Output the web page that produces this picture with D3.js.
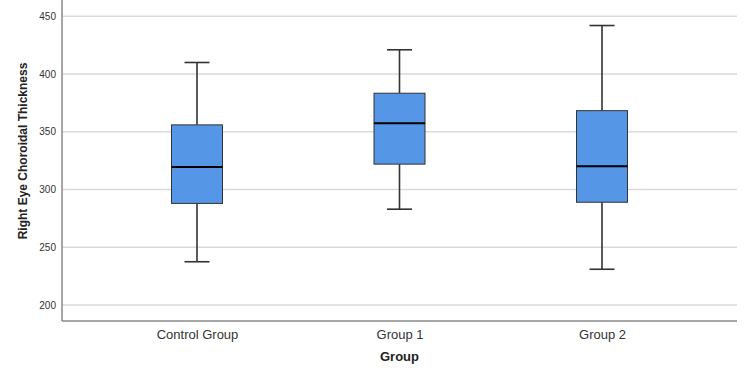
<!DOCTYPE html>
<html>
<head>
<meta charset="utf-8">
<script src="https://cdn.jsdelivr.net/npm/d3@7"></script>
<style>
  body { margin: 0; background: #fff; }
  text { font-family: Arial, "Liberation Sans", sans-serif; }
</style>
</head>
<body>
<svg id="chart" width="744" height="368"></svg>
<script>
// ===== Data =====
const groups = ["Control Group", "Group 1", "Group 2"];
const whiskerLow = [237.5, 283, 231];
const q1Values = [288, 322, 289];
const medians = [319.6, 357.4, 320.2];
const q3Values = [356, 383.4, 368.3];
const whiskerHigh = [410, 421, 442];
const yTicks = [200, 250, 300, 350, 400, 450];

const boxes = groups.map((g, i) => ({
  group: g,
  lo: whiskerLow[i], q1: q1Values[i], med: medians[i], q3: q3Values[i], hi: whiskerHigh[i]
}));

// ===== Layout =====
const svg = d3.select("#chart");
const plotLeft = 62, plotRight = 737, plotTop = 0, plotBottom = 321;

const x = d3.scalePoint()
  .domain(groups)
  .range([plotLeft, plotRight])
  .padding(2 / 3);

const y = d3.scaleLinear()
  .domain([186.2, 464.1])
  .range([plotBottom, plotTop]);

// gridlines
svg.append("g")
  .selectAll("line")
  .data(yTicks)
  .enter()
  .append("line")
  .attr("x1", plotLeft)
  .attr("x2", plotRight)
  .attr("y1", d => y(d))
  .attr("y2", d => y(d))
  .attr("stroke", "#d9d9d9")
  .attr("stroke-width", 1.5);

// y axis
const yAxis = svg.append("g")
  .attr("transform", `translate(${plotLeft},0)`)
  .call(d3.axisLeft(y).tickValues(yTicks).tickSize(0).tickPadding(6));
yAxis.select(".domain").remove();
yAxis.selectAll("text")
  .style("font-size", "10px")
  .attr("fill", "#333");

// x axis
const xAxis = svg.append("g")
  .attr("transform", `translate(0,${plotBottom})`)
  .call(d3.axisBottom(x).tickSize(0).tickPadding(9));
xAxis.select(".domain").remove();
xAxis.selectAll("text")
  .style("font-size", "13px")
  .attr("fill", "#333");

// axis lines
svg.append("line")
  .attr("x1", plotLeft).attr("x2", plotLeft)
  .attr("y1", plotTop).attr("y2", plotBottom)
  .attr("stroke", "#888").attr("stroke-width", 1.5);
svg.append("line")
  .attr("x1", plotLeft).attr("x2", plotRight)
  .attr("y1", plotBottom).attr("y2", plotBottom)
  .attr("stroke", "#888").attr("stroke-width", 1.5);

// ===== Boxes =====
const boxW = 51, capW = 25;
const gBox = svg.append("g")
  .selectAll("g")
  .data(boxes)
  .enter()
  .append("g")
  .attr("transform", d => `translate(${x(d.group)},0)`);

// whiskers
gBox.append("line")
  .attr("x1", 0).attr("x2", 0)
  .attr("y1", d => y(d.hi)).attr("y2", d => y(d.q3))
  .attr("stroke", "#333").attr("stroke-width", 1.6);
gBox.append("line")
  .attr("x1", 0).attr("x2", 0)
  .attr("y1", d => y(d.q1)).attr("y2", d => y(d.lo))
  .attr("stroke", "#333").attr("stroke-width", 1.6);
gBox.append("line")
  .attr("x1", -capW / 2).attr("x2", capW / 2)
  .attr("y1", d => y(d.hi)).attr("y2", d => y(d.hi))
  .attr("stroke", "#333").attr("stroke-width", 1.6);
gBox.append("line")
  .attr("x1", -capW / 2).attr("x2", capW / 2)
  .attr("y1", d => y(d.lo)).attr("y2", d => y(d.lo))
  .attr("stroke", "#333").attr("stroke-width", 1.6);

// box
gBox.append("rect")
  .attr("x", -boxW / 2)
  .attr("width", boxW)
  .attr("y", d => y(d.q3))
  .attr("height", d => y(d.q1) - y(d.q3))
  .attr("fill", "#5596e6")
  .attr("stroke", "#333")
  .attr("stroke-width", 1);

// median
gBox.append("line")
  .attr("x1", -boxW / 2).attr("x2", boxW / 2)
  .attr("y1", d => y(d.med)).attr("y2", d => y(d.med))
  .attr("stroke", "#000").attr("stroke-width", 2);

// ===== Titles =====
svg.append("text")
  .attr("x", (plotLeft + plotRight) / 2)
  .attr("y", 361)
  .attr("text-anchor", "middle")
  .style("font-size", "13px")
  .style("font-weight", "bold")
  .attr("fill", "#222")
  .text("Group");

svg.append("text")
  .attr("transform", `translate(27,151) rotate(-90)`)
  .attr("text-anchor", "middle")
  .style("font-size", "12px")
  .style("font-weight", "bold")
  .attr("fill", "#222")
  .text("Right Eye Choroidal Thickness");
</script>
</body>
</html>
